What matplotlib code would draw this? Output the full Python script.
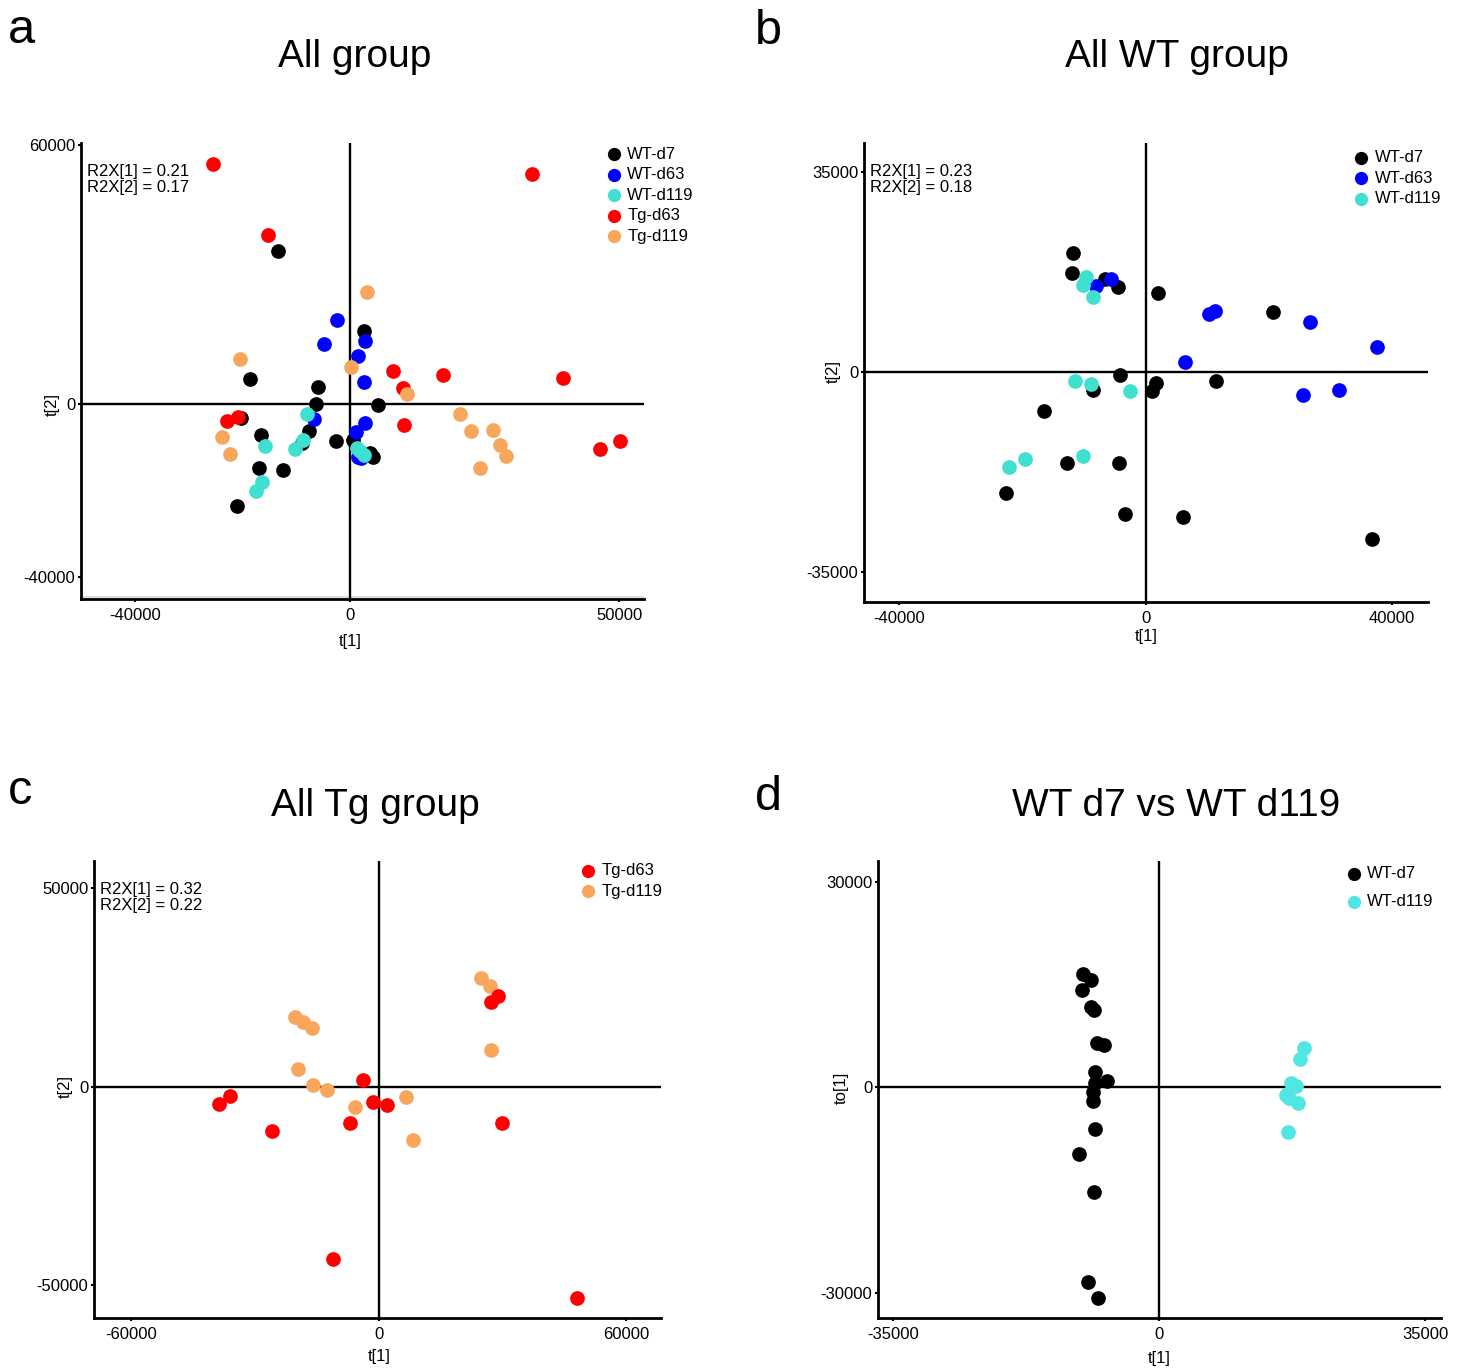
import matplotlib
matplotlib.use("Agg")
import matplotlib.pyplot as plt
from matplotlib.transforms import blended_transform_factory, offset_copy

plt.rcParams['font.family'] = ['Liberation Sans', 'DejaVu Sans']

# ---- data ----
colors = {'WT-d7': 'black', 'WT-d63': '#0000FF', 'WT-d119': '#40E0D0',
          'Tg-d63': '#FF0000', 'Tg-d119': '#F8A65C'}

# a: all groups
a_wt_d7_x = [-13400, 2500, -18600, -5900, -6300, -20200, 5100, -16500, -7600, -9000, -2600, 600, 3700, 4300, -16900, -12500, -21100]
a_wt_d7_y = [35400, 16900, 5800, 3900, 100, -3200, -200, -7200, -6300, -9000, -8500, -8400, -11400, -12300, -14800, -15300, -23600]
a_wt_d63_x = [-2500, -4900, 2700, 1500, 2500, -6700, 2700, 1100, 1500, 2000]
a_wt_d63_y = [19500, 13800, 14700, 11100, 5000, -3500, -4300, -6400, -12200, -12600]
a_wt_d119_x = [-8000, -15800, -8700, -10200, -16400, -17500, 1300, 1900, 2600]
a_wt_d119_y = [-2300, -9700, -8300, -10500, -18100, -20200, -10200, -11000, -11800]
a_tg_d63_x = [-25500, -15200, -22900, -20800, 33800, 7900, 17300, 39600, 9900, 10000, 46500, 50100]
a_tg_d63_y = [55600, 39100, -3900, -2900, 53300, 7700, 6700, 6000, 3700, -4900, -10400, -8500]
a_tg_d119_x = [-20400, 100, 3100, 10500, -23800, -22300, 20400, 22500, 26500, 27900, 28900, 24200]
a_tg_d119_y = [10400, 8600, 25900, 2400, -7700, -11500, -2300, -6300, -6000, -9400, -12000, -14900]

# b: WT groups
b_wt_d7_x = [-11800, -11900, -6600, -4500, 2000, 20700, -4200, -8600, 1600, 1100, 11400, -16500, -12800, -4300, -22600, -3300, 6000, 36700]
b_wt_d7_y = [20700, 17300, 16300, 14900, 13800, 10500, -600, -3100, -1900, -3300, -1600, -6800, -16000, -15900, -21100, -24900, -25400, -29200]
b_wt_d63_x = [-8100, -5600, 10300, 11300, 26700, 37500, 6400, 25600, 31400]
b_wt_d63_y = [15100, 16300, 10200, 10700, 8800, 4400, 1800, -4100, -3200]
b_wt_d119_x = [-9700, -10100, -8500, -11400, -8800, -2500, -10200, -19600, -22100]
b_wt_d119_y = [16500, 15200, 13100, -1600, -2100, -3300, -14700, -15300, -16600]

# c: Tg groups
c_tg_d63_x = [-3800, -38800, -36000, -25800, -7000, -11100, 29000, 27200, -1400, 2100, 29900, 48200]
c_tg_d63_y = [1700, -4400, -2300, -11100, -9100, -43400, 22900, 21200, -3800, -4700, -9100, -53200]
c_tg_d119_x = [-20400, -18400, -16100, -19600, -16000, -12600, -5700, 24900, 26900, 27200, 6600, 8200]
c_tg_d119_y = [17600, 16300, 14700, 4400, 400, -700, -5000, 27300, 25300, 9200, -2500, -13400]

# d: WT d7 vs WT d119
d_wt_d7_x = [-10000, -9000, -10100, -9000, -8600, -8200, -7300, -8500, -6900, -8400, -8700, -8700, -8500, -10500, -8600, -9300, -8100]
d_wt_d7_y = [16500, 15600, 14200, 11700, 11300, 6500, 6200, 2300, 900, 700, -700, -2000, -6000, -9700, -15300, -28400, -30700]
d_wt_d119_x = [19100, 18600, 17400, 18000, 16700, 17100, 18300, 17000]
d_wt_d119_y = [5800, 4200, 600, 200, -1100, -1600, -2300, -6500]

fig = plt.figure(figsize=(14.63, 13.69), dpi=100)
W, H = 1463, 1369
FS = 12


def make_ax(left, top, right, bottom):
    return fig.add_axes([left / W, 1 - bottom / H, (right - left) / W, (bottom - top) / H])


def style(ax, xlim, ylim, xticks, yticks, xlabel, ylabel, r2x, leg_anchor,
          ylab_off=29, xlab_off=39, legspace=0.33, order=None):
    ax.set_xlim(xlim)
    ax.set_ylim(ylim)
    ax.axhline(0, color='black', lw=1.7, zorder=1)
    ax.axvline(0, color='black', lw=1.7, zorder=1)
    for s in ['top', 'right']:
        ax.spines[s].set_visible(False)
    for s in ['left', 'bottom']:
        ax.spines[s].set_linewidth(2.0)
    ax.set_xticks(xticks)
    ax.set_yticks(yticks)
    ax.set_xticklabels([str(t) for t in xticks])
    ax.set_yticklabels([str(t) for t in yticks])
    ax.tick_params(axis='x', length=2.5, width=1.5, labelsize=FS, pad=4.2)
    ax.tick_params(axis='y', length=2.5, width=1.5, labelsize=FS, pad=1.6)
    tx = offset_copy(blended_transform_factory(ax.transData, ax.transAxes), fig=fig,
                     x=0, y=-xlab_off, units='dots')
    ax.text(0, 0, xlabel, transform=tx, ha='center', va='center', fontsize=FS)
    ty = offset_copy(blended_transform_factory(ax.transAxes, ax.transData), fig=fig,
                     x=-ylab_off, y=0, units='dots')
    ax.text(0, 0, ylabel, transform=ty, ha='center', va='center', rotation=90, fontsize=FS)
    if r2x is not None:
        ax.text(0.011, 0.955, r2x, transform=ax.transAxes, ha='left', va='top',
                fontsize=FS, linespacing=1.15)
    handles, labels = ax.get_legend_handles_labels()
    if order is not None:
        handles = [handles[labels.index(o)] for o in order]
        labels = list(order)
    ax.legend(handles, labels, loc='upper left', bbox_to_anchor=leg_anchor, frameon=False,
              fontsize=FS, handletextpad=0.3, labelspacing=legspace, borderpad=0,
              borderaxespad=0, handlelength=1.0, markerscale=0.9)


S = 112

# ---- a ----
ax = make_ax(81, 143, 644, 599)
for g, xs, ys in [('WT-d7', a_wt_d7_x, a_wt_d7_y), ('WT-d63', a_wt_d63_x, a_wt_d63_y),
                  ('WT-d119', a_wt_d119_x, a_wt_d119_y), ('Tg-d63', a_tg_d63_x, a_tg_d63_y),
                  ('Tg-d119', a_tg_d119_x, a_tg_d119_y)]:
    ax.scatter(xs, ys, s=S, color=colors[g], label=g, linewidths=0, zorder=3)
ax.plot([0, 1], [0.005, 0.005], transform=ax.transAxes, color='#dddddd', lw=1.5, zorder=0)
style(ax, (-50000, 54600), (-45200, 60500), [-40000, 0, 50000], [-40000, 0, 60000],
      't[1]', 't[2]', 'R2X[1] = 0.21\nR2X[2] = 0.17', (0.932, 0.992), ylab_off=29, xlab_off=42)
fig.text(355 / W, 1 - 67 / H, 'All group', fontsize=28, ha='center', va='baseline')
fig.text(8 / W, 1 - 43 / H, 'a', fontsize=35, ha='left', va='baseline')

# ---- b ----
ax = make_ax(864, 143, 1428, 602)
for g, xs, ys in [('WT-d7', b_wt_d7_x, b_wt_d7_y), ('WT-d63', b_wt_d63_x, b_wt_d63_y),
                  ('WT-d119', b_wt_d119_x, b_wt_d119_y)]:
    ax.scatter(xs, ys, s=S, color=colors[g], label=g, linewidths=0, zorder=3)
style(ax, (-45700, 45800), (-40200, 40000), [-40000, 0, 40000], [-35000, 0, 35000],
      't[1]', 't[2]', 'R2X[1] = 0.23\nR2X[2] = 0.18', (0.867, 0.984), ylab_off=31, xlab_off=35)
fig.text(1177 / W, 1 - 67 / H, 'All WT group', fontsize=28, ha='center', va='baseline')
fig.text(755 / W, 1 - 44 / H, 'b', fontsize=35, ha='left', va='baseline')

# ---- c ----
ax = make_ax(94, 861, 661, 1318)
for g, xs, ys in [('Tg-d119', c_tg_d119_x, c_tg_d119_y), ('Tg-d63', c_tg_d63_x, c_tg_d63_y)]:
    ax.scatter(xs, ys, s=S, color=colors[g], label=g, linewidths=0, zorder=3)
style(ax, (-69100, 68500), (-58200, 56800), [-60000, 0, 60000], [-50000, 0, 50000],
      't[1]', 't[2]', 'R2X[1] = 0.32\nR2X[2] = 0.22', (0.857, 0.995), ylab_off=29, xlab_off=39,
      order=['Tg-d63', 'Tg-d119'])
fig.text(375 / W, 1 - 816 / H, 'All Tg group', fontsize=28, ha='center', va='baseline')
fig.text(8 / W, 1 - 804 / H, 'c', fontsize=35, ha='left', va='baseline')

# ---- d ----
ax = make_ax(878, 861, 1441, 1318)
ax.scatter(d_wt_d7_x, d_wt_d7_y, s=S, color='black', label='WT-d7', linewidths=0, zorder=3)
ax.scatter(d_wt_d119_x, d_wt_d119_y, s=S, color='#50E6E2', label='WT-d119', linewidths=0, zorder=3)
style(ax, (-37000, 37100), (-33600, 33000), [-35000, 0, 35000], [-30000, 0, 30000],
      't[1]', 'to[1]', None, (0.83, 0.988), ylab_off=37, xlab_off=41, legspace=0.75)
fig.text(1176 / W, 1 - 816 / H, 'WT d7 vs WT d119', fontsize=28, ha='center', va='baseline')
fig.text(755 / W, 1 - 810 / H, 'd', fontsize=35, ha='left', va='baseline')

fig.savefig('out.png', dpi=100)
